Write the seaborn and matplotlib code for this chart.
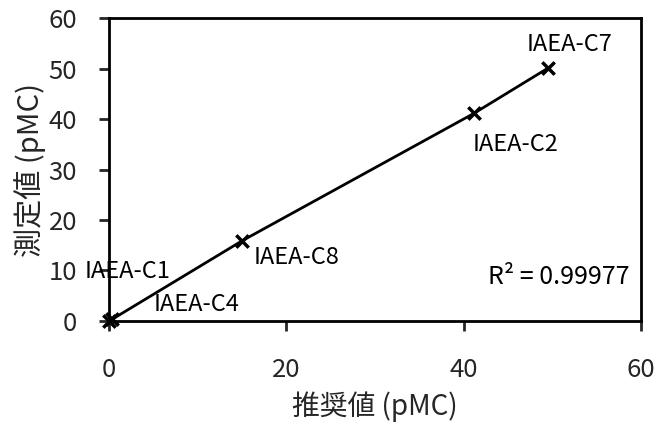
import matplotlib
matplotlib.use("Agg")
import matplotlib.pyplot as plt
import seaborn as sns
import pandas as pd

# Reference materials: recommended vs measured 14C activity (pMC)
samples = ["IAEA-C1", "IAEA-C4", "IAEA-C8", "IAEA-C2", "IAEA-C7"]
recommended = [0.00, 0.32, 15.03, 41.14, 49.53]
measured = [0.05, 0.30, 15.9, 41.1, 50.1]
# label anchor positions (data units) for each sample name
label_x = [2.1, 9.9, 21.1, 45.9, 51.9]
label_y = [9.9, 3.2, 12.5, 35.0, 54.7]
r_squared_text = "R² = 0.99977"

x_ticks = [0, 20, 40, 60]
y_ticks = [0, 10, 20, 30, 40, 50, 60]

df = pd.DataFrame({"sample": samples, "recommended": recommended, "measured": measured})

sns.set_style("ticks")
plt.rcParams["font.family"] = ["Noto Sans CJK JP", "DejaVu Sans"]

fig = plt.figure(figsize=(6.63, 4.26), dpi=100)
ax = fig.add_axes([0.1644, 0.2465, 0.9668 - 0.1644, 0.9577 - 0.2465])

sns.lineplot(data=df, x="recommended", y="measured", color="black", linewidth=2,
             sort=True, ax=ax)
sns.scatterplot(data=df, x="recommended", y="measured", marker="x", color="black",
                s=80, linewidth=2.5, ax=ax, zorder=5)
for coll in ax.collections:
    coll.set_clip_on(False)

for name, lx, ly in zip(samples, label_x, label_y):
    ax.text(lx, ly, name, ha="center", va="center", fontsize=17, color="black")
ax.text(42.7, 8.7, r_squared_text, ha="left", va="center", fontsize=18, color="black")

ax.set_xlim(0, 60)
ax.set_ylim(0, 60)
ax.set_xticks(x_ticks)
ax.set_yticks(y_ticks)
ax.tick_params(axis="x", direction="out", length=7, width=2, pad=19, labelsize=18.5)
ax.tick_params(axis="y", direction="out", length=7, width=2, pad=16, labelsize=18.5)
for side in ["left", "right", "top", "bottom"]:
    ax.spines[side].set_visible(True)
    ax.spines[side].set_linewidth(2)
    ax.spines[side].set_color("black")

ax.set_xlabel("推奨値 (pMC)", fontsize=20, labelpad=6)
ax.set_ylabel("測定値 (pMC)", fontsize=21, labelpad=2)

fig.savefig("out.png", dpi=100)
